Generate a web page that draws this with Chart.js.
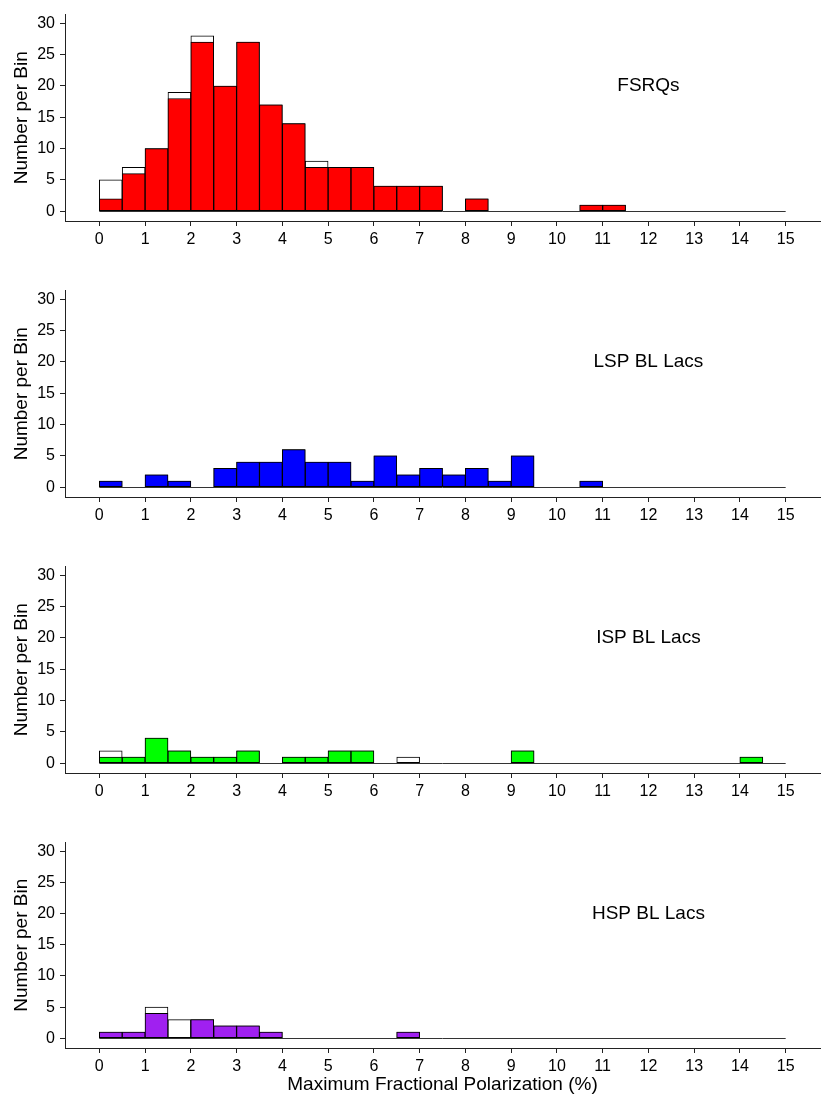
<!DOCTYPE html>
<html>
<head>
<meta charset="utf-8">
<script src="https://cdn.jsdelivr.net/npm/chart.js@4.4.1/dist/chart.umd.min.js"></script>
<style>
    body { margin: 0; background: #fff; }
    .panel { position: relative; width: 830px; }
    canvas { display: block; }
</style>
</head>
<body>
<div class="panel"><canvas id="fsrq" width="830" height="276"></canvas></div>
<div class="panel"><canvas id="lsp" width="830" height="276"></canvas></div>
<div class="panel"><canvas id="isp" width="830" height="276"></canvas></div>
<div class="panel"><canvas id="hsp" width="830" height="279"></canvas></div>
<script>
// bin left edges (%), bins are 0.5 wide
var binLefts = [0, 0.5, 1, 1.5, 2, 2.5, 3, 3.5, 4, 4.5, 5, 5.5, 6, 6.5, 7, 7.5,
    8, 8.5, 9, 9.5, 10, 10.5, 11, 11.5, 12, 12.5, 13, 13.5, 14, 14.5];
var binWidth = 0.5;

var xTicks = [0, 1, 2, 3, 4, 5, 6, 7, 8, 9, 10, 11, 12, 13, 14, 15];
var yTicks = [0, 5, 10, 15, 20, 25, 30];

// FSRQs
var fsrqFilled = [2, 6, 10, 18, 27, 20, 27, 17, 14, 7, 7, 7, 4, 4, 4, 0, 2, 0, 0, 0, 0, 1, 1, 0, 0, 0, 0, 0, 0, 0];
var fsrqTotal  = [5, 7, 10, 19, 28, 20, 27, 17, 14, 8, 7, 7, 4, 4, 4, 0, 2, 0, 0, 0, 0, 1, 1, 0, 0, 0, 0, 0, 0, 0];

// LSP BL Lacs
var lspFilled = [1, 0, 2, 1, 0, 3, 4, 4, 6, 4, 4, 1, 5, 2, 3, 2, 3, 1, 5, 0, 0, 1, 0, 0, 0, 0, 0, 0, 0, 0];
var lspTotal  = [1, 0, 2, 1, 0, 3, 4, 4, 6, 4, 4, 1, 5, 2, 3, 2, 3, 1, 5, 0, 0, 1, 0, 0, 0, 0, 0, 0, 0, 0];

// ISP BL Lacs
var ispFilled = [1, 1, 4, 2, 1, 1, 2, 0, 1, 1, 2, 2, 0, 0, 0, 0, 0, 0, 2, 0, 0, 0, 0, 0, 0, 0, 0, 0, 1, 0];
var ispTotal  = [2, 1, 4, 2, 1, 1, 2, 0, 1, 1, 2, 2, 0, 1, 0, 0, 0, 0, 2, 0, 0, 0, 0, 0, 0, 0, 0, 0, 1, 0];

// HSP BL Lacs
var hspFilled = [1, 1, 4, 0, 3, 2, 2, 1, 0, 0, 0, 0, 0, 1, 0, 0, 0, 0, 0, 0, 0, 0, 0, 0, 0, 0, 0, 0, 0, 0];
var hspTotal  = [1, 1, 5, 3, 3, 2, 2, 1, 0, 0, 0, 0, 0, 1, 0, 0, 0, 0, 0, 0, 0, 0, 0, 0, 0, 0, 0, 0, 0, 0];

var FONT = "'Liberation Sans', Arial, Helvetica, sans-serif";
var AXIS_COLOR = '#222';

function ToPoints(values) {
    var points = [];
    var index = 0;
    while (index < values.length) {
        points.push({ x: binLefts[index] + binWidth / 2, y: values[index] });
        index++;
    }
    return points;
}

// zero line running under all bins, and the panel label
var panelPlugin = {
    id: 'panelPlugin',
    beforeDatasetsDraw: function (chart) {
        var ctx = chart.ctx;
        var x = chart.scales.x, y = chart.scales.y;
        var y0 = Math.round(y.getPixelForValue(0)) + 0.5;
        ctx.save();
        ctx.strokeStyle = '#333';
        ctx.lineWidth = 1;
        ctx.beginPath();
        ctx.moveTo(x.getPixelForValue(binLefts[0]), y0);
        ctx.lineTo(x.getPixelForValue(binLefts[binLefts.length - 1] + binWidth), y0);
        ctx.stroke();
        ctx.restore();
    },
    afterDraw: function (chart) {
        var opts = chart.options.plugins.panelPlugin;
        var ctx = chart.ctx;
        ctx.save();
        ctx.fillStyle = '#000';
        ctx.font = '19px ' + FONT;
        ctx.textAlign = 'center';
        ctx.textBaseline = 'middle';
        ctx.fillText(opts.label, chart.scales.x.getPixelForValue(12), chart.scales.y.getPixelForValue(20));
        ctx.restore();
    }
};

function MakePanel(id, label, filled, total, color, showTitle) {
    var ctx = document.getElementById(id).getContext('2d');
    return new Chart(ctx, {
        type: 'bar',
        data: {
            datasets: [
                {
                    label: label,
                    data: ToPoints(filled),
                    backgroundColor: color,
                    borderColor: '#000',
                    borderWidth: 1,
                    borderSkipped: false,
                    grouped: false,
                    order: 1
                },
                {
                    label: label + ' total',
                    data: ToPoints(total),
                    backgroundColor: '#fff',
                    borderColor: '#000',
                    borderWidth: 1,
                    borderSkipped: false,
                    grouped: false,
                    order: 2
                }
            ]
        },
        options: {
            responsive: false,
            animation: false,
            devicePixelRatio: 1,
            barPercentage: 1,
            categoryPercentage: 1,
            layout: { padding: { top: 10, right: 10, left: 0, bottom: 0 } },
            plugins: {
                legend: { display: false },
                tooltip: { enabled: false },
                panelPlugin: { label: label }
            },
            scales: {
                x: {
                    type: 'linear',
                    offset: false,
                    min: -0.75,
                    max: 15.75,
                    afterBuildTicks: function (scale) {
                        scale.ticks = xTicks.map(function (v) { return { value: v }; });
                    },
                    afterFit: function (scale) { scale.height = showTitle ? 59 : 55; },
                    grid: { offset: false, drawOnChartArea: false, drawTicks: true, tickLength: 5, color: AXIS_COLOR },
                    border: { display: true, color: AXIS_COLOR, width: 1 },
                    ticks: { color: '#000', padding: 4, maxRotation: 0, autoSkip: false, font: { family: FONT, size: 16 } },
                    title: {
                        display: showTitle,
                        text: 'Maximum Fractional Polarization (%)',
                        color: '#000',
                        font: { family: FONT, size: 19 },
                        padding: { top: 0, bottom: 11 }
                    }
                },
                y: {
                    type: 'linear',
                    min: -1.56,
                    max: 31.4,
                    afterBuildTicks: function (scale) {
                        scale.ticks = yTicks.map(function (v) { return { value: v }; });
                    },
                    afterFit: function (scale) { scale.width = 65; },
                    grid: { drawOnChartArea: false, drawTicks: true, tickLength: 5, color: AXIS_COLOR },
                    border: { display: true, color: AXIS_COLOR, width: 1 },
                    ticks: { color: '#000', padding: 5, font: { family: FONT, size: 16 } },
                    title: {
                        display: true,
                        text: 'Number per Bin',
                        color: '#000',
                        font: { family: FONT, size: 19 },
                        padding: { top: 10, bottom: 0 }
                    }
                }
            }
        },
        plugins: [panelPlugin]
    });
}

MakePanel('fsrq', 'FSRQs', fsrqFilled, fsrqTotal, '#ff0000', false);
MakePanel('lsp', 'LSP BL Lacs', lspFilled, lspTotal, '#0000ff', false);
MakePanel('isp', 'ISP BL Lacs', ispFilled, ispTotal, '#00ff00', false);
MakePanel('hsp', 'HSP BL Lacs', hspFilled, hspTotal, '#a020f0', true);
</script>
</body>
</html>
